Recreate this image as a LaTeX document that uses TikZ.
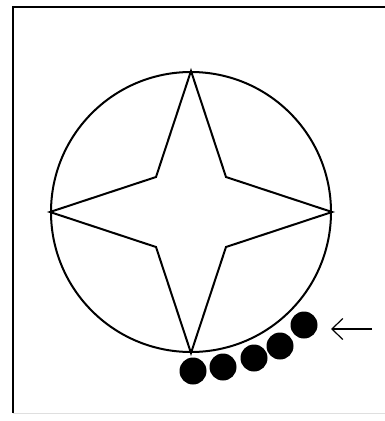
\documentclass[tikz,border=0pt]{standalone}
\usepackage{tikz}
\usetikzlibrary{positioning,arrows.meta}

\begin{document}
\begin{tikzpicture}[
    x=1pt, y=-1pt,
    ring/.style={circle, draw, line width=2pt, minimum size=280pt, inner sep=0pt},
    starline/.style={line width=2pt, line join=miter},
    bead/.style={circle, fill=black, minimum size=27pt, inner sep=0pt},
    pointer/.style={-{Straight Barb[length=11pt, width=21pt, line width=1.2pt]}, line width=1.2pt},
    frameline/.style={line width=2pt},
]
\useasboundingbox (0,0) rectangle (385,421);

% Frame (open on the right)
\draw[frameline] (385,7) -- (12.5,7) -- (12.5,413);
\draw[gray!25, line width=1.5pt] (12.5,413.5) -- (385,413.5);

% Ring with the four-pointed star
\node[ring] (ring) at (191,212) {};
\coordinate (ul) at (156,177);
\coordinate (ur) at (226,177);
\coordinate (lr) at (226,247);
\coordinate (ll) at (156,247);
\draw[starline] (ring.north) -- (ur) -- (ring.east) -- (lr)
    -- (ring.south) -- (ll) -- (ring.west) -- (ul) -- cycle;

% Beads along the rim
\foreach \i/\x/\y in {1/193/371, 2/223/367, 3/254/358, 4/280/346, 5/304/325} {
    \node[bead] (b\i) at (\x,\y) {};
}

% Arrow pointing at the beads
\coordinate (tip) at (331,329);
\coordinate (tail) at (372,329);
\draw[pointer] (tail) -- (tip);
\end{tikzpicture}
\end{document}
